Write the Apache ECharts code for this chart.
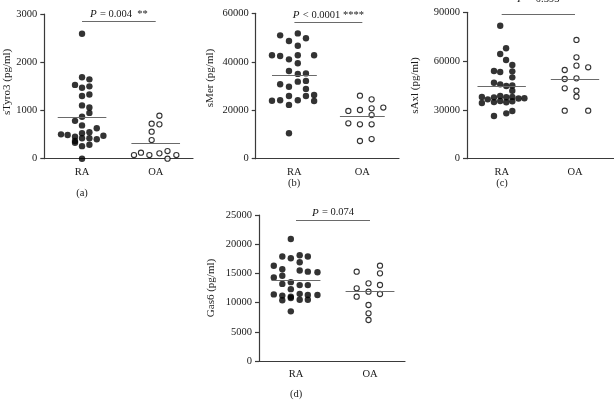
<!DOCTYPE html>
<html><head><meta charset="utf-8">
<script src="https://cdn.jsdelivr.net/npm/echarts@6/dist/echarts.min.js"></script>
<style>html,body{margin:0;padding:0;background:#fff}#c{width:614px;height:401px}</style>
</head><body><div id="c"></div>
<script>
const categories = ['RA', 'OA'];
const panelLetters = ['(a)', '(b)', '(c)', '(d)'];
const yNames = ['sTyro3 (pg/ml)', 'sMer (pg/ml)', 'sAxl (pg/ml)', 'Gas6 (pg/ml)'];
const yMaxes = [3000, 60000, 90000, 25000];
const yIntervals = [1000, 20000, 30000, 5000];
const pValues = ['= 0.004', '< 0.0001', '= 0.393', '= 0.074'];
const pStars = ['  **', ' ****', '', ''];
const sigBarY = [2855, 56500, 88950, 24020];

// [jitter offset from category centre, value]
const raA = [[0,2590],[0,1690],[0.1,1645],[-0.095,1530],[0.1,1500],[0,1470],[0.1,1330],[0,1300],[0,1105],[0.1,1060],[0.1,950],[0,870],[-0.095,785],[0,690],[0.2,630],[-0.285,505],[-0.195,490],[-0.095,456],[0,527],[0.1,547],[0.29,477],[-0.095,367],[0,423],[0.1,423],[0.2,402],[-0.095,330],[0,260],[0.1,290],[0,0]];
const oaA = [[0.05,890],[-0.055,726],[0.05,712],[-0.055,560],[-0.055,387],[-0.295,76],[-0.2,124],[-0.086,76],[0.05,111],[0.16,159],[0.16,0],[0.28,76]];
const meansA = [864, 311];

const raB = [[-0.21,50900],[0.05,51700],[-0.08,48600],[0.17,49700],[0.05,46600],[-0.33,42700],[-0.21,42400],[-0.08,41000],[0.05,42700],[0.29,42700],[0.05,39400],[-0.08,36200],[0.05,35000],[0.17,35200],[0.05,31800],[0.17,32100],[-0.21,30700],[-0.08,29700],[0.17,28800],[-0.08,25900],[0.17,25900],[0.29,26300],[-0.33,23900],[-0.21,24100],[0.05,24100],[0.29,23800],[-0.08,22200],[-0.08,10500]];
const oaB = [[-0.035,26000],[0.137,24500],[-0.206,19700],[-0.035,20100],[0.137,20800],[0.309,21100],[0.137,18000],[-0.206,14600],[-0.035,14200],[0.137,14200],[-0.035,7300],[0.137,8100]];
const meansB = [34400, 17340];

const raC = [[-0.02,81770],[0.06,67880],[-0.02,64370],[0.06,60680],[0.145,57600],[-0.105,53920],[-0.02,53300],[0.145,53700],[0.145,50000],[-0.105,46700],[-0.02,45700],[0.063,44700],[0.145,45000],[0.145,41800],[-0.27,38000],[-0.27,34200],[-0.19,36500],[-0.105,37700],[-0.105,34800],[-0.02,38500],[-0.02,35500],[0.063,37800],[0.063,34700],[0.145,38000],[0.145,35300],[0.23,37000],[0.31,37200],[-0.105,26240],[0.063,27880],[0.145,29300]];
const oaC = [[0.02,72990],[0.02,62330],[0.18,56180],[0.02,57200],[-0.14,54530],[-0.14,49000],[0.02,49400],[-0.14,43280],[0.02,41800],[0.02,38130],[-0.14,29500],[0.18,29500]];
const meansC = [44800, 48800];

const raD = [[-0.07,20900],[-0.185,17900],[-0.07,17600],[0.05,18100],[0.16,17900],[0.05,16900],[-0.3,16300],[-0.185,15700],[0.05,15500],[0.16,15300],[0.29,15200],[-0.3,14300],[-0.185,14600],[-0.185,13200],[-0.07,13500],[0.05,13000],[0.16,13000],[-0.07,12300],[-0.3,11400],[-0.185,11200],[-0.07,11000],[0.05,11500],[0.16,11300],[0.29,11300],[-0.185,10400],[-0.07,10800],[0.05,10500],[0.16,10500],[-0.07,8500]];
const oaD = [[-0.18,15290],[0.135,16320],[0.135,15010],[-0.02,13300],[-0.18,12450],[-0.02,11870],[0.135,13010],[0.135,11470],[-0.18,11010],[-0.02,9590],[-0.02,8170],[-0.02,7020]];
const meansD = [13900, 12000];

const raSets = [raA, raB, raC, raD];
const oaSets = [oaA, oaB, oaC, oaD];
const meanSets = [meansA, meansB, meansC, meansD];

// layout (styling, not data)
const FONT = "'Liberation Serif', 'Times New Roman', Times, serif";
const grids = [
  {left: 44.3, top: 14, width: 148.7, height: 144.7},
  {left: 255.7, top: 13.3, width: 143.3, height: 145.4},
  {left: 467, top: 12.3, width: 147, height: 146.4},
  {left: 259, top: 215, width: 146, height: 146}
];
const xRanges = [[0.488, 2.506], [0.43, 2.54], [0.527, 2.532], [0.5, 2.473]];
const nameGaps = [32, 40, 46, 42];
const namePads = [[0,0,0,9],[0,0,0,16],[0,0,0,0],[0,0,0,0]];
const labelDist = [1, 1, 9, 2];
const letterPos = [[82, 193], [294, 183], [502, 183], [296, 394]];
const HW = 0.33;
const axisColor = '#3a3a3a';
const lineColor = '#6a6a6a';
const textColor = '#1a1a1a';

const chart = echarts.init(document.getElementById('c'), null, {renderer: 'canvas'});
const xAxis = [], yAxis = [], series = [], graphic = [];
grids.forEach((g, i) => {
  xAxis.push({
    type: 'value', gridIndex: i, min: xRanges[i][0], max: xRanges[i][1],
    axisLine: {show: true, onZero: false, lineStyle: {color: axisColor, width: 1.2}},
    axisTick: {show: false}, splitLine: {show: false},
    axisLabel: {customValues: [1, 2], formatter: v => categories[Math.round(v) - 1] || '',
      color: textColor, fontFamily: FONT, fontSize: 10.5, margin: 8}
  });
  yAxis.push({
    type: 'value', gridIndex: i, min: 0, max: yMaxes[i], interval: yIntervals[i],
    axisLine: {show: true, lineStyle: {color: axisColor, width: 1.2}},
    axisTick: {show: true, length: 4, lineStyle: {color: axisColor, width: 1.2}},
    splitLine: {show: false},
    axisLabel: {formatter: v => String(v), color: textColor, fontFamily: FONT, fontSize: 10.5, margin: 7},
    name: yNames[i], nameLocation: 'middle', nameGap: nameGaps[i],
    nameTextStyle: {color: textColor, fontFamily: FONT, fontSize: 11, padding: namePads[i]}
  });
  const means = meanSets[i];
  series.push({
    type: 'scatter', xAxisIndex: i, yAxisIndex: i, symbol: 'circle', symbolSize: 6.4,
    itemStyle: {color: '#000'}, z: 3,
    data: raSets[i].map(([o, v]) => [1 + o, v]),
    markLine: {
      silent: true, symbol: ['none', 'none'], animation: false,
      lineStyle: {color: lineColor, width: 1.2, type: 'solid'},
      label: {show: false},
      data: [
        [{coord: [1 - HW, means[0]]}, {coord: [1 + HW, means[0]]}],
        [{coord: [1, sigBarY[i]], label: {show: true, position: 'insideMiddleTop', distance: labelDist[i],
            formatter: '{i|P} {n|' + pValues[i] + pStars[i] + '}',
            rich: {i: {fontStyle: 'italic', fontFamily: FONT, fontSize: 11, color: textColor},
                   n: {fontFamily: FONT, fontSize: 10.5, color: textColor}}}},
         {coord: [2, sigBarY[i]]}]
      ]
    }
  });
  series.push({
    type: 'scatter', xAxisIndex: i, yAxisIndex: i, symbol: 'circle', symbolSize: 5.2,
    itemStyle: {color: '#fff', borderColor: '#000', borderWidth: 1.1}, z: 3,
    data: oaSets[i].map(([o, v]) => [2 + o, v]),
    markLine: {
      silent: true, symbol: ['none', 'none'], animation: false,
      lineStyle: {color: lineColor, width: 1.2, type: 'solid'},
      label: {show: false},
      data: [[{coord: [2 - HW, means[1]]}, {coord: [2 + HW, means[1]]}]]
    }
  });
  graphic.push({
    type: 'text', x: letterPos[i][0], y: letterPos[i][1],
    style: {text: panelLetters[i], fill: textColor, font: '10.5px ' + FONT,
      align: 'center', verticalAlign: 'middle', textAlign: 'center', textVerticalAlign: 'middle'}
  });
});

chart.setOption({
  animation: false,
  backgroundColor: '#fff',
  grid: grids, xAxis, yAxis, series, graphic
});
</script>
</body></html>
